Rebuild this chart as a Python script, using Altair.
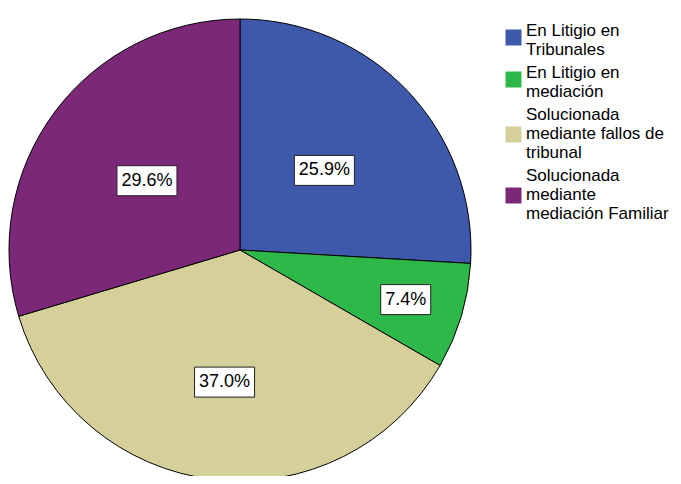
import altair as alt
import pandas as pd

categories = [
    "En Litigio en Tribunales",
    "En Litigio en mediación",
    "Solucionada mediante fallos de tribunal",
    "Solucionada mediante mediación Familiar",
]
percentages = [25.9, 7.4, 37.0, 29.6]
colors = ["#3E58AB", "#2EB84A", "#D5CF99", "#7B2879"]
legend_lines = [
    ["En Litigio en", "Tribunales"],
    ["En Litigio en", "mediación"],
    ["Solucionada", "mediante fallos de", "tribunal"],
    ["Solucionada", "mediante", "mediación Familiar"],
]

df = pd.DataFrame({"cat": categories, "pct": percentages, "idx": list(range(len(categories)))})

CX, CY, R = 232, 242, 231
FONT = "Liberation Sans"

# legend label expression with manual line breaks
expr = "datum.label"
for cat, lines in reversed(list(zip(categories, legend_lines))):
    arr = "[" + ",".join("'" + l + "'" for l in lines) + "]"
    expr = f"datum.label == '{cat}' ? {arr} : ({expr})"

# square legend symbols shifted down so they sit centred on the wrapped label block
def square_path(n_lines):
    off = 0.875 if n_lines == 2 else 2.5
    return f"M-1,{off - 1:.3f}H1V{off + 1:.3f}H-1Z"

symbol_paths = [square_path(len(l)) for l in legend_lines]

color_scale = alt.Scale(domain=categories, range=colors)

legend = alt.Legend(
    title=None,
    orient="none",
    legendX=497,
    legendY=14,
    symbolSize=256,
    symbolStrokeColor="black",
    symbolStrokeWidth=1,
    symbolOpacity=1,
    labelFont=FONT,
    labelFontSize=17,
    labelColor="black",
    labelOffset=4,
    labelLimit=400,
    rowPadding=5,
    labelExpr=expr,
)

base = alt.Chart(df)

pie = base.mark_arc(outerRadius=R, x=CX, y=CY, stroke="black", strokeWidth=1).encode(
    theta=alt.Theta("pct:Q", stack=True),
    order=alt.Order("idx:Q"),
    color=alt.Color("cat:N", scale=color_scale, sort=categories, legend=legend),
)

labels = base.transform_joinaggregate(total="sum(pct)").transform_window(
    cum="sum(pct)", sort=[alt.SortField("idx")], frame=[None, 0]
).transform_calculate(
    ang="2*PI*(datum.cum - datum.pct/2)/datum.total",
    lr="datum.pct < 10 ? 173 : (datum.pct > 35 ? 133 : 116)",
).transform_calculate(
    lx=f"{CX} + datum.lr*sin(datum.ang)",
    ly=f"{CY} - datum.lr*cos(datum.ang)",
    txt="format(datum.pct, '.1f') + '%'",
).transform_calculate(
    hw="length(datum.txt)*5 + 5",
).transform_calculate(
    x1="datum.lx - datum.hw",
    x2="datum.lx + datum.hw",
    y1="datum.ly - 15",
    y2="datum.ly + 15",
)

# invisible carrier layer for the legend (colour + shifted square symbols)
legend_layer = labels.mark_point(filled=True, opacity=0, stroke="black", strokeWidth=1).encode(
    x=alt.X("lx:Q", scale=None, axis=None),
    y=alt.Y("ly:Q", scale=None, axis=None),
    color=alt.Color("cat:N", scale=color_scale, sort=categories, legend=legend),
    shape=alt.Shape("cat:N", scale=alt.Scale(domain=categories, range=symbol_paths), sort=categories, legend=legend),
)

boxes = labels.mark_rect(fill="white", stroke="#222222", strokeWidth=1).encode(
    x=alt.X("x1:Q", scale=None, axis=None),
    x2="x2:Q",
    y=alt.Y("y1:Q", scale=None, axis=None),
    y2="y2:Q",
)

texts = labels.mark_text(font=FONT, fontSize=18, color="black", baseline="middle", align="center").encode(
    x=alt.X("lx:Q", scale=None, axis=None),
    y=alt.Y("ly:Q", scale=None, axis=None),
    text="txt:N",
)

chart = alt.layer(pie, legend_layer, boxes, texts).properties(
    width=665,
    height=468,
    padding=0,
    background="white",
    autosize=alt.AutoSizeParams(type="none"),
).configure_view(stroke=None)

chart.save("out.html", embed_options={"renderer": "svg", "actions": False})
